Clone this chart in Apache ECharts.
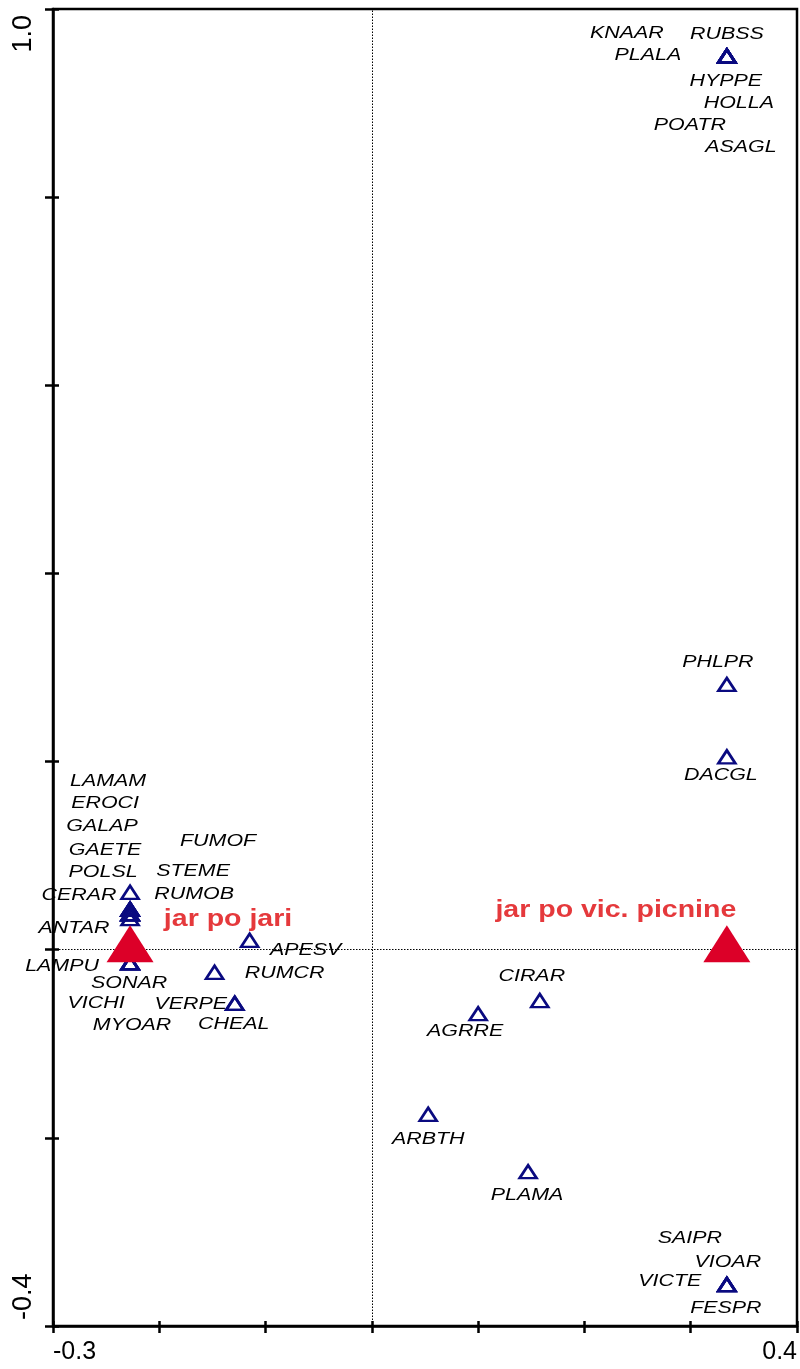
<!DOCTYPE html>
<html>
<head>
<meta charset="utf-8">
<title>Ordination diagram</title>
<script src="https://cdn.jsdelivr.net/npm/echarts@6/dist/echarts.min.js"></script>
<style>
  html, body { margin: 0; padding: 0; background: #fff; }
  #chart { width: 800px; height: 1369px; }
</style>
</head>
<body>
<div id="chart"></div>
<script>
// Species scores (axis 1, axis 2)
const speciesNames = [
  'KNAAR', 'RUBSS', 'PLALA', 'HYPPE', 'HOLLA', 'POATR', 'ASAGL',
  'PHLPR', 'DACGL',
  'SAIPR', 'VIOAR', 'VICTE', 'FESPR',
  'CIRAR', 'AGRRE', 'ARBTH', 'PLAMA',
  'CERAR',
  'LAMAM', 'EROCI', 'GALAP', 'FUMOF',
  'GAETE', 'POLSL', 'STEME', 'RUMOB',
  'ANTAR',
  'LAMPU', 'SONAR', 'VICHI', 'MYOAR',
  'APESV', 'RUMCR', 'VERPE', 'CHEAL'
];
const speciesX = [
  0.334, 0.334, 0.334, 0.334, 0.334, 0.334, 0.334,
  0.334, 0.334,
  0.334, 0.334, 0.334, 0.334,
  0.158, 0.100, 0.053, 0.147,
  -0.2275,
  -0.2275, -0.2275, -0.2275, -0.2275,
  -0.2275, -0.2275, -0.2275, -0.2275,
  -0.2275,
  -0.2275, -0.2275, -0.2275, -0.2275,
  -0.115, -0.148, -0.129, -0.129
];
const speciesY = [
  0.950, 0.950, 0.950, 0.950, 0.950, 0.950, 0.950,
  0.282, 0.205,
  -0.356, -0.356, -0.356, -0.356,
  -0.054, -0.068, -0.175, -0.236,
  0.061,
  0.043, 0.043, 0.043, 0.043,
  0.038, 0.038, 0.038, 0.038,
  0.033,
  -0.014, -0.014, -0.014, -0.014,
  0.010, -0.024, -0.057, -0.057
];

// Group centroids (sample classes)
const groupNames = ['jar po jari', 'jar po vic. picnine'];
const groupX = [-0.2275, 0.334];
const groupY = [0, 0];

// Axis ranges and tick spacing
const xRange = [-0.3, 0.4];
const yRange = [-0.4, 1.0];
const xStep = 0.1;
const yStep = 0.2;

// Label placement, in pixels from the marker centre
const speciesLabelOffsets = [
  [-100, -23], [0, -22], [-79, -1], [-1, 25], [12, 47], [-37, 69], [14, 91],
  [-9, -22], [-6, 18],
  [-37, -46], [1, -22], [-57, -3], [-1, 24],
  [-8, -24], [-13, 18], [0, 25], [-1, 24],
  [-51, 3],
  [-22, -128], [-25, -106], [-28, -83], [88, -68],
  [-25, -64], [-27, -42], [63, -43], [64, -20],
  [-56, 10],
  [-68, 3], [-1, 20], [-34, 40], [2, 62],
  [56, 10], [70, 1], [-44, 1], [-1, 21]
];
const groupLabelOffsets = [[98, -30], [-111, -39]];

const FONT = '"Liberation Sans", Arial, Helvetica, sans-serif';
const TEXT_STRETCH = 1.26;

function endLabel(range) {
  return function (v) {
    if (Math.abs(v - range[0]) < 1e-6 || Math.abs(v - range[1]) < 1e-6) {
      return v.toFixed(1);
    }
    return '';
  };
}

const speciesData = speciesNames.map((n, i) => ({ name: n, value: [speciesX[i], speciesY[i]] }));
const groupData = groupNames.map((n, i) => ({ name: n, value: [groupX[i], groupY[i]] }));

const axisLineStyle = { color: '#000', width: 2.5 };

const chart = echarts.init(document.getElementById('chart'), null, { renderer: 'canvas' });

chart.setOption({
  backgroundColor: '#fff',
  animation: false,
  grid: {
    left: 53, right: 1.5, top: 9, bottom: 43,
    show: true, borderColor: '#000', borderWidth: 2.5,
    containLabel: false
  },
  xAxis: [
    {
      type: 'value', min: xRange[0], max: xRange[1], interval: xStep, position: 'bottom',
      axisLine: { show: true, onZero: false, lineStyle: axisLineStyle },
      axisTick: { show: true, length: 7, lineStyle: { color: '#000', width: 2.5 } },
      axisLabel: {
        show: true, formatter: endLabel(xRange), color: '#000',
        fontFamily: FONT, fontSize: 25, margin: 14,
        alignMinLabel: 'left', alignMaxLabel: 'right'
      },
      splitLine: { show: false }
    },
    {
      type: 'value', min: xRange[0], max: xRange[1], interval: xStep, position: 'bottom',
      axisLine: { show: false, onZero: false },
      axisTick: { show: true, inside: true, length: 5, lineStyle: { color: '#000', width: 2.5 } },
      axisLabel: { show: false },
      splitLine: { show: false }
    }
  ],
  yAxis: [
    {
      type: 'value', min: yRange[0], max: yRange[1], interval: yStep, position: 'left',
      axisLine: { show: true, onZero: false, lineStyle: axisLineStyle },
      axisTick: { show: true, length: 8, lineStyle: { color: '#000', width: 2.5 } },
      axisLabel: {
        show: true, formatter: endLabel(yRange), color: '#000',
        fontFamily: FONT, fontSize: 27, margin: 16, rotate: 90,
        alignMinLabel: 'left', alignMaxLabel: 'right',
        padding: [0, 6, 0, 6]
      },
      splitLine: { show: false }
    },
    {
      type: 'value', min: yRange[0], max: yRange[1], interval: yStep, position: 'left',
      axisLine: { show: false, onZero: false },
      axisTick: { show: true, inside: true, length: 6, lineStyle: { color: '#000', width: 2.5 } },
      axisLabel: { show: false },
      splitLine: { show: false }
    }
  ],
  series: [
    {
      // zero reference lines
      type: 'line',
      data: [],
      silent: true,
      markLine: {
        silent: true,
        symbol: 'none',
        label: { show: false },
        lineStyle: { color: '#000', width: 1, type: [1.5, 1.5], opacity: 1 },
        data: [{ xAxis: 0 }, { yAxis: 0 }]
      },
      z: 1
    },
    {
      name: 'species',
      type: 'scatter',
      data: speciesData,
      symbol: 'triangle',
      symbolSize: [17, 13],
      itemStyle: { color: 'rgba(0,0,0,0)', borderColor: '#0a0a80', borderWidth: 2.6, opacity: 1 },
      silent: true,
      z: 3
    },
    {
      name: 'species labels',
      type: 'custom',
      data: speciesData,
      silent: true,
      clip: false,
      renderItem: function (params, api) {
        const p = api.coord([api.value(0), api.value(1)]);
        const off = speciesLabelOffsets[params.dataIndex];
        return {
          type: 'text',
          x: p[0] + off[0],
          y: p[1] + off[1],
          scaleX: TEXT_STRETCH,
          style: {
            text: speciesNames[params.dataIndex],
            font: 'italic 17px ' + FONT,
            fill: '#000',
            align: 'center',
            verticalAlign: 'middle'
          }
        };
      },
      z: 4
    },
    {
      name: 'groups',
      type: 'scatter',
      data: groupData,
      symbol: 'triangle',
      symbolSize: [47, 37],
      symbolOffset: [0, -6],
      itemStyle: { color: '#dc0028', opacity: 1 },
      silent: true,
      z: 5
    },
    {
      name: 'group labels',
      type: 'custom',
      data: groupData,
      silent: true,
      clip: false,
      renderItem: function (params, api) {
        const p = api.coord([api.value(0), api.value(1)]);
        const off = groupLabelOffsets[params.dataIndex];
        return {
          type: 'text',
          x: p[0] + off[0],
          y: p[1] + off[1],
          scaleX: 1.24,
          style: {
            text: groupNames[params.dataIndex],
            font: 'bold 23px ' + FONT,
            fill: '#e5393c',
            align: 'center',
            verticalAlign: 'middle'
          }
        };
      },
      z: 6
    }
  ]
});
</script>
</body>
</html>
